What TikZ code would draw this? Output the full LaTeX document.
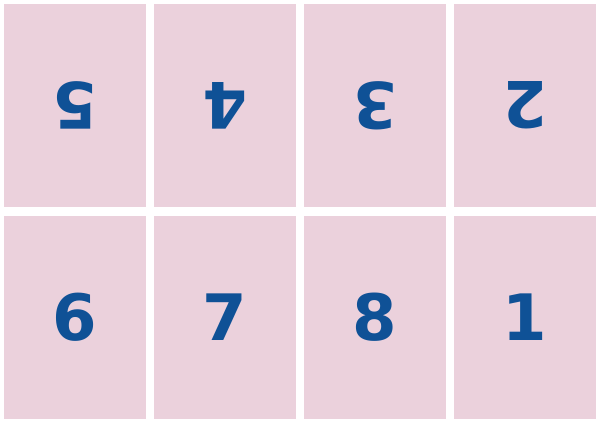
\documentclass[tikz,border=0pt]{standalone}
\usepackage{fontspec}
\setmainfont{DejaVu Sans}
\usepackage{tikz}
\definecolor{pagepink}{HTML}{EBD1DC}
\definecolor{digitblue}{HTML}{0F5196}
\tikzset{
  page/.style={fill=pagepink,draw=none,minimum width=142pt,minimum height=203pt,inner sep=0pt},
  digit/.style={text=digitblue,font=\fontsize{64}{64}\selectfont\bfseries}
}
\begin{document}
\begin{tikzpicture}[x=1pt,y=1pt]
    \useasboundingbox (0,0) rectangle (600,424);
    % top row, upside down
    \foreach \d [count=\i from 0] in {5,4,3,2}
    {
      \node[page] (p\d) at ({75+150*\i},{318.5}) {};
      \node[digit,rotate=180] (d\d) at (p\d) {\d};
    }
    % bottom row
    \foreach \d [count=\i from 0] in {6,7,8,1}
    {
      \node[page] (p\d) at ({75+150*\i},{106.5}) {};
      \node[digit] (d\d) at (p\d) {\d};
    }
  \end{tikzpicture}
\end{document}
